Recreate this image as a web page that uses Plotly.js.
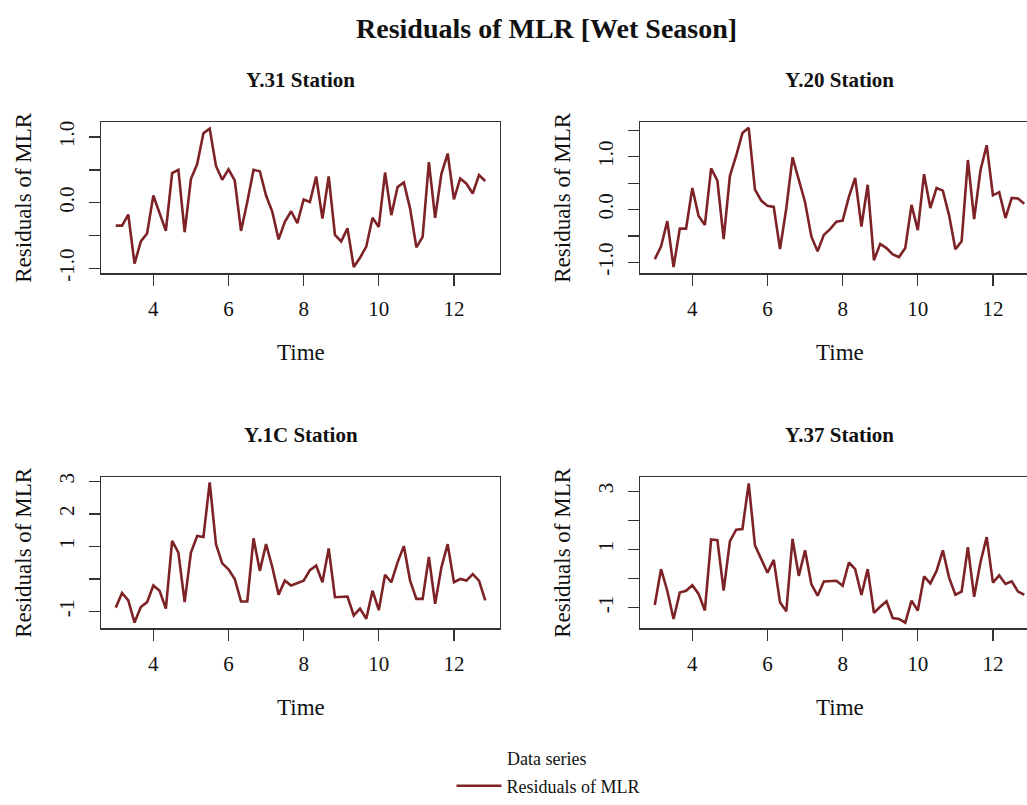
<!DOCTYPE html>
<html>
<head>
<meta charset="utf-8">
<script src="https://cdn.plot.ly/plotly-3.0.1.min.js"></script>
<style>
html{margin:0;padding:0;width:1027px;height:805px;overflow:hidden;background:#fff;}
body{margin:0;padding:0;width:1027px;height:805px;overflow:hidden;background:#fff;position:relative;}
#chart{position:absolute;left:0;top:0;width:1027px;height:805px;overflow:hidden;}
</style>
</head>
<body>
<div id="chart"></div>
<script>
// ---- data ----
const tsStart = 3;        // first time value of the ts
const tsFrequency = 6;    // observations per time unit (wet-season months)

const stationNames = ["Y.31 Station", "Y.20 Station", "Y.1C Station", "Y.37 Station"];
const seriesName = "Residuals of MLR";

const y31 = [-0.35,-0.35,-0.18,-0.93,-0.59,-0.47,0.11,-0.17,-0.43,0.45,
             0.50,-0.45,0.36,0.59,1.06,1.13,0.56,0.35,0.51,0.34,
             -0.43,0.01,0.50,0.48,0.11,-0.14,-0.56,-0.29,-0.13,-0.31,
             0.05,0.01,0.40,-0.24,0.40,-0.49,-0.59,-0.39,-0.98,-0.84,
             -0.67,-0.23,-0.37,0.46,-0.19,0.24,0.31,-0.09,-0.68,-0.52,
             0.62,-0.23,0.44,0.75,0.05,0.37,0.29,0.14,0.42,0.33];

const y20 = [-0.94,-0.70,-0.22,-1.09,-0.36,-0.36,0.41,-0.12,-0.29,0.78,
             0.55,-0.56,0.64,1.02,1.45,1.55,0.38,0.17,0.07,0.05,
             -0.75,0.02,0.99,0.58,0.14,-0.51,-0.79,-0.48,-0.37,-0.23,
             -0.21,0.24,0.60,-0.32,0.47,-0.96,-0.65,-0.73,-0.85,-0.90,
             -0.73,0.09,-0.39,0.67,0.03,0.41,0.36,-0.11,-0.75,-0.60,
             0.94,-0.18,0.74,1.22,0.27,0.33,-0.16,0.22,0.21,0.11];

const y1C = [-0.88,-0.43,-0.66,-1.34,-0.86,-0.71,-0.20,-0.36,-0.91,1.17,
             0.81,-0.71,0.81,1.32,1.29,2.97,1.07,0.48,0.30,0.00,
             -0.69,-0.69,1.25,0.25,1.07,0.36,-0.48,-0.05,-0.20,-0.13,
             -0.05,0.27,0.41,-0.10,0.94,-0.56,-0.56,-0.54,-1.12,-0.91,
             -1.22,-0.36,-0.96,0.13,-0.10,0.51,1.01,-0.05,-0.61,-0.61,
             0.68,-0.76,0.36,1.07,-0.10,0.00,-0.05,0.15,-0.05,-0.66];

const y37 = [-0.91,0.32,-0.42,-1.39,-0.48,-0.42,-0.23,-0.53,-1.10,1.34,
             1.32,-0.42,1.28,1.68,1.70,3.27,1.14,0.66,0.20,0.64,
             -0.82,-1.13,1.36,0.09,0.97,-0.19,-0.59,-0.10,-0.08,-0.08,
             -0.25,0.55,0.32,-0.57,0.32,-1.18,-0.97,-0.78,-1.36,-1.39,
             -1.52,-0.76,-1.10,0.07,-0.17,0.26,0.97,0.03,-0.56,-0.45,
             1.08,-0.63,0.55,1.42,-0.14,0.11,-0.19,-0.10,-0.45,-0.56];

const xTickVals = [4, 6, 8, 10, 12];
const xTickText = ["4", "6", "8", "10", "12"];
const yTickVals = [[-1,-0.5,0,0.5,1], [-1,-0.5,0,0.5,1,1.5], [-1,0,1,2,3], [-1,0,1,2,3]];
const yTickText = [["-1.0","","0.0","","1.0"], ["-1.0","","0.0","","1.0",""], ["-1","","1","2","3"], ["-1","","1","","3"]];

const mainTitle = "Residuals of MLR [Wet Season]";
const xLabel = "Time";
const yLabel = "Residuals of MLR";
const legendTitle = "Data series";

// time index of the ts object
const time = y31.map((_, i) => tsStart + i / tsFrequency);

// ---- layout geometry (pixels) ----
const W = 1027, H = 805;
const SERIF = '"Liberation Serif", "Times New Roman", Times, serif';
const LINE = "#7d2327";
const AX = "#333333";
const pxPerUnit = 37.575;
const colPx = [[101, 500], [640, 1027]];
const rowPx = [[124, 277], [484, 637]];
const yRanges = [[-1.075, 1.226], [-1.206, 1.654], [-1.515, 3.121], [-1.712, 3.475]];
const xStart = 2.607;

const series = [y31, y20, y1C, y37];
const traces = [];
const layout = {
  width: W, height: H, margin: {l: 0, r: 0, t: 0, b: 0},
  paper_bgcolor: "#fff", plot_bgcolor: "#fff",
  font: {family: SERIF, color: "#111", size: 21},
  showlegend: true,
  legend: {
    x: 548 / W, xanchor: "center", y: 1 - 797 / H, yanchor: "middle",
    font: {family: SERIF, size: 18, color: "#111"}, itemwidth: 45,
    bgcolor: "rgba(0,0,0,0)"
  },
  annotations: []
};
function px2x(p) { return p / W; }
function px2y(p) { return 1 - p / H; }

for (let k = 0; k < 4; k++) {
  const c = k % 2, r = Math.floor(k / 2);
  const xa = k === 0 ? "xaxis" : "xaxis" + (k + 1);
  const ya = k === 0 ? "yaxis" : "yaxis" + (k + 1);
  const xr = k === 0 ? "x" : "x" + (k + 1);
  const yr = k === 0 ? "y" : "y" + (k + 1);
  traces.push({type: "scatter", mode: "lines", x: time, y: series[k], xaxis: xr, yaxis: yr,
    name: seriesName, showlegend: k === 0, line: {color: LINE, width: 2.6}, hoverinfo: "skip"});
  const xEnd = xStart + (colPx[c][1] - colPx[c][0]) / pxPerUnit;
  layout[xa] = {domain: [px2x(colPx[c][0]), px2x(colPx[c][1])], anchor: yr, range: [xStart, xEnd],
    showgrid: false, zeroline: false, showline: true, mirror: true, linecolor: AX, linewidth: 1.3,
    ticks: "outside", ticklen: 11, tickwidth: 1.3, tickcolor: AX,
    tickmode: "array", tickvals: xTickVals, ticktext: xTickText,
    tickfont: {family: SERIF, size: 21, color: "#111"}, ticklabelstandoff: 5};
  layout[ya] = {domain: [px2y(rowPx[r][1]), px2y(rowPx[r][0])], anchor: xr, range: yRanges[k],
    showgrid: false, zeroline: false, showline: true, mirror: c === 0, linecolor: AX, linewidth: 1.3,
    ticks: "outside", ticklen: 11, tickwidth: 1.3, tickcolor: AX,
    tickmode: "array", tickvals: yTickVals[k], ticktext: yTickText[k], tickangle: -90,
    tickfont: {family: SERIF, size: 21, color: "#111"}, ticklabelstandoff: 6};
  const cx = c === 0 ? (colPx[0][0] + colPx[0][1]) / 2 : 640 + 199.5;
  const cy = (rowPx[r][0] + rowPx[r][1]) / 2;
  layout.annotations.push({text: "<b>" + stationNames[k] + "</b>", xref: "paper", yref: "paper",
    x: px2x(cx), y: px2y(rowPx[r][0] - 43), xanchor: "center", yanchor: "middle",
    showarrow: false, font: {family: SERIF, size: 21, color: "#111"}});
  layout.annotations.push({text: xLabel, xref: "paper", yref: "paper",
    x: px2x(cx), y: px2y(rowPx[r][1] + 80), xanchor: "center", yanchor: "middle",
    showarrow: false, font: {family: SERIF, size: 23, color: "#111"}});
  layout.annotations.push({text: yLabel, xref: "paper", yref: "paper", textangle: -90,
    x: px2x(colPx[c][0] - 77), y: px2y(cy), xanchor: "center", yanchor: "middle",
    showarrow: false, font: {family: SERIF, size: 23, color: "#111"}});
}

layout.annotations.push({text: "<b>" + mainTitle + "</b>", xref: "paper", yref: "paper",
  x: px2x(546), y: px2y(29), xanchor: "center", yanchor: "middle",
  showarrow: false, font: {family: SERIF, size: 28, color: "#111"}});
layout.annotations.push({text: legendTitle, xref: "paper", yref: "paper",
  x: px2x(546), y: px2y(770), xanchor: "center", yanchor: "middle",
  showarrow: false, font: {family: SERIF, size: 18, color: "#111"}});

Plotly.newPlot("chart", traces, layout, {staticPlot: true, displayModeBar: false});
</script>
</body>
</html>
